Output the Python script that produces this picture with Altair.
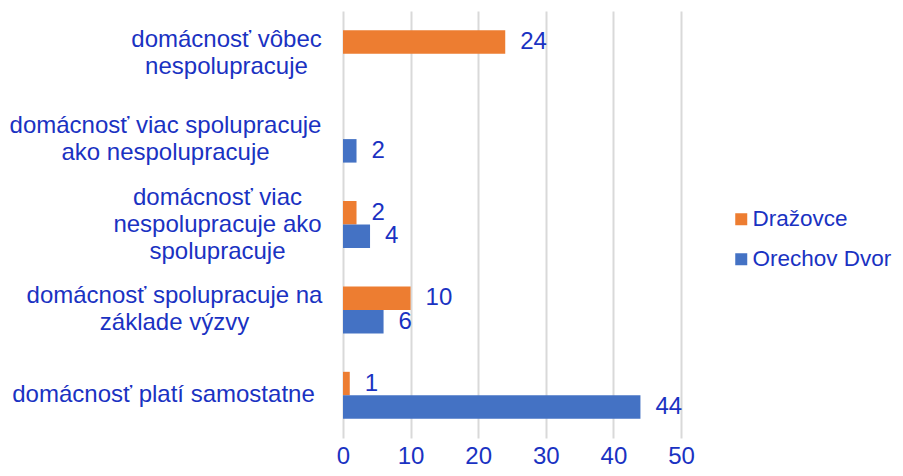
import json
import altair as alt
import pandas as pd

# ---- data ----
categories = [
    "domácnosť vôbec\nnespolupracuje",
    "domácnosť viac spolupracuje\nako nespolupracuje",
    "domácnosť viac\nnespolupracuje ako\nspolupracuje",
    "domácnosť spolupracuje na\nzáklade výzvy",
    "domácnosť platí samostatne",
]
series = ["Dražovce", "Orechov Dvor"]
drazovce = [24, None, 2, 10, 1]
orechov_dvor = [None, 2, 4, 6, 44]
x_ticks = [0, 10, 20, 30, 40, 50]

colors = ["#ED7D31", "#4472C4"]
text_color = "#1A32C2"
font = "Liberation Sans"
line_h = 27

rows = []
for cat, d, o in zip(categories, drazovce, orechov_dvor):
    if d is not None:
        rows.append({"cat": cat, "series": series[0], "value": d})
    if o is not None:
        rows.append({"cat": cat, "series": series[1], "value": o})
df = pd.DataFrame(rows)

# per-label padding so every multi-line label is centred on itself (Excel style)
label_pad = [117, 178, 126, 169, 180]
pad_cond = {
    "condition": [
        {"test": "datum.value === " + json.dumps(c), "value": p}
        for c, p in zip(categories, label_pad)
    ],
    "value": 170,
}
# vertical centring of multi-line label blocks
off_cond = {
    "condition": [
        {"test": "datum.value === " + json.dumps(c),
         "value": -(c.count("\n")) * line_h / 2}
        for c in categories
    ],
    "value": 0,
}

y_enc = alt.Y(
    "cat:N",
    sort=categories,
    scale=alt.Scale(domain=categories, paddingInner=0.45, paddingOuter=0.225),
    axis=alt.Axis(
        title=None,
        domain=False,
        ticks=False,
        tickSize=0,
        grid=False,
        labelAlign="center",
        labelBaseline="middle",
        labelPadding=pad_cond,
        labelOffset=off_cond,
        labelExpr="split(datum.value, '\\n')",
        labelLineHeight=line_h,
        labelFontSize=24,
        labelFont=font,
        labelColor=text_color,
        labelLimit=0,
    ),
)
yoff_enc = alt.YOffset(
    "series:N", sort=series,
    scale=alt.Scale(domain=series, paddingInner=0, paddingOuter=0),
)
x_enc = alt.X(
    "value:Q",
    scale=alt.Scale(domain=[0, 50], nice=False),
    axis=alt.Axis(
        title=None,
        values=x_ticks,
        domain=False,
        ticks=False,
        grid=True,
        gridColor="#D9D9D9",
        gridWidth=2,
        labelFontSize=24,
        labelFont=font,
        labelColor=text_color,
        labelPadding=6,
        labelFlush=False,
    ),
)

base = alt.Chart(df).encode(y=y_enc, yOffset=yoff_enc, x=x_enc)

bars = base.mark_bar().encode(
    color=alt.Color(
        "series:N",
        sort=series,
        scale=alt.Scale(domain=series, range=colors),
        legend=alt.Legend(
            title=None,
            orient="none",
            legendX=387,
            legendY=197,
            symbolType="square",
            symbolSize=144,
            symbolStrokeWidth=0,
            labelFontSize=22.5,
            labelFont=font,
            labelColor=text_color,
            labelOffset=0,
            labelLimit=0,
            rowPadding=17,
            padding=0,
        ),
    )
)

labels = base.mark_text(
    align="left", baseline="middle", dx=15, fontSize=24, font=font, color=text_color
).encode(text="value:Q")

chart = (
    alt.layer(bars, labels)
    .properties(
        width=338,
        height=427,
        autosize=alt.AutoSizeParams(type="none"),
        padding={"left": 335, "top": 3, "right": 214, "bottom": 30},
    )
    .configure_view(stroke=None)
)

chart.save("out.html", embed_options={"renderer": "svg", "actions": False})
